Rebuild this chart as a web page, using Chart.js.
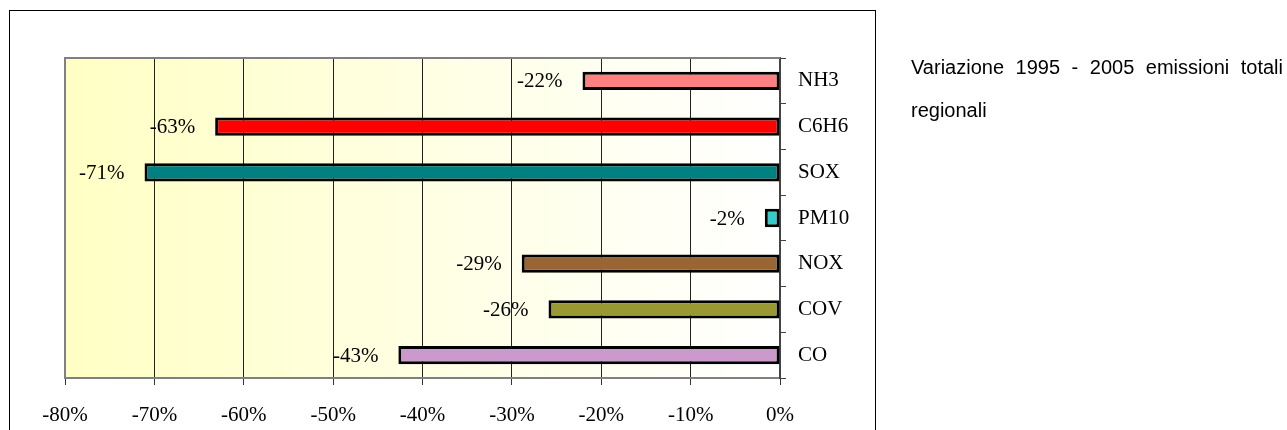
<!DOCTYPE html>
<html>
<head>
<meta charset="utf-8">
<script src="https://cdn.jsdelivr.net/npm/chart.js@4"></script>
<style>
  html, body { margin: 0; padding: 0; background: #fff; }
  body { width: 1287px; height: 430px; position: relative; overflow: hidden; }
  #frame { position: absolute; left: 9px; top: 10px; width: 867px; height: 440px; border: 1px solid #000; box-sizing: border-box; }
  #wrap { position: absolute; left: 0; top: 0; width: 1287px; height: 430px; }
  #note { position: absolute; left: 911px; top: 46px; width: 372px; font: 20px "Liberation Sans", Arial, sans-serif; line-height: 43px; text-align: justify; text-align-last: left; color: #000; }
</style>
</head>
<body>
<div id="frame"></div>
<div id="wrap"><canvas id="graph" width="1287" height="430"></canvas></div>
<div id="note">Variazione 1995 - 2005 emissioni totali regionali</div>
<script>
// categorie dall'alto in basso
var inquinanti = ["NH3", "C6H6", "SOX", "PM10", "NOX", "COV", "CO"]
var variazione = [-22.1, -63.2, -71.1, -1.7, -28.9, -25.9, -42.7]
var etichette = ["-22%", "-63%", "-71%", "-2%", "-29%", "-26%", "-43%"]
var colori = ["#FF8080", "#FF0000", "#008080", "#33CCCC", "#996633", "#999933", "#CC99CC"]
var tickX = [-80, -70, -60, -50, -40, -30, -20, -10, 0]

var serif = '"Liberation Serif", "Times New Roman", serif'

// sfondo sfumato + bordo grigio a sinistra e in alto
var sfondo = {
  id: 'sfondo',
  beforeDraw(chart) {
    var a = chart.chartArea, ctx = chart.ctx
    var g = ctx.createLinearGradient(a.left, 0, a.right, 0)
    g.addColorStop(0, '#FFFFC4')
    g.addColorStop(0.45, '#FFFFE0')
    g.addColorStop(1, '#FFFFFF')
    ctx.save()
    ctx.fillStyle = g
    ctx.fillRect(a.left, a.top, a.right - a.left, a.bottom - a.top)
    ctx.restore()
  },
  afterDraw(chart) {
    var a = chart.chartArea, ctx = chart.ctx
    ctx.save()
    ctx.strokeStyle = '#808080'
    ctx.lineWidth = 2
    ctx.beginPath()
    ctx.moveTo(a.left, a.bottom)
    ctx.lineTo(a.left, a.top)
    ctx.lineTo(a.right, a.top)
    ctx.stroke()
    ctx.restore()
  }
}

// etichette dei valori a sinistra delle barre
var valori = {
  id: 'valori',
  afterDatasetsDraw(chart) {
    var ctx = chart.ctx
    var meta = chart.getDatasetMeta(0)
    ctx.save()
    ctx.font = '21px ' + serif
    ctx.fillStyle = '#000'
    ctx.textAlign = 'right'
    ctx.textBaseline = 'middle'
    meta.data.forEach(function (bar, i) {
      ctx.fillText(etichette[i], bar.x - 20, bar.y + 1)
    })
    ctx.restore()
  }
}

new Chart(document.getElementById('graph'), {
  type: 'bar',
  data: {
    labels: inquinanti,
    datasets: [{
      data: variazione,
      backgroundColor: colori,
      borderColor: '#000',
      borderWidth: 3,
      borderSkipped: false,
      barPercentage: 0.4,
      categoryPercentage: 1
    }]
  },
  options: {
    indexAxis: 'y',
    responsive: false,
    animation: false,
    events: [],
    layout: { padding: { left: 65, top: 58, right: 407, bottom: 0 } },
    plugins: { legend: { display: false }, tooltip: { enabled: false } },
    scales: {
      x: {
        min: -80, max: 0,
        afterBuildTicks(scale) { scale.ticks = tickX.map(v => ({ value: v })) },
        afterFit(scale) { scale.height = 52 },
        border: { color: '#808080', width: 2 },
        grid: { color: '#222', lineWidth: 1, tickLength: 7, tickColor: '#333' },
        ticks: {
          color: '#000', font: { family: serif, size: 21 }, padding: 18,
          maxRotation: 0,
          callback: function (v) { return v + '%' }
        }
      },
      y: {
        position: 'right',
        afterFit(scale) { scale.width = 100 },
        border: { color: '#444', width: 2 },
        grid: { drawOnChartArea: false, tickLength: 6, tickColor: '#444', offset: true },
        ticks: { color: '#000', font: { family: serif, size: 21 }, padding: 12 }
      }
    }
  },
  plugins: [sfondo, valori]
})
</script>
</body>
</html>
